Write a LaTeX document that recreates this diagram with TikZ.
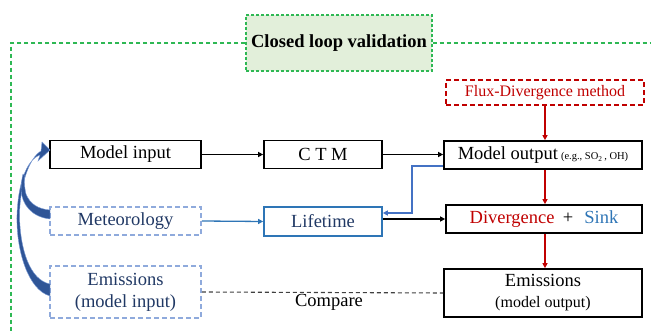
\documentclass[tikz,border=0pt]{standalone}
\usepackage{fontspec}
\setmainfont{Liberation Serif}
\newfontfamily\tnr{Liberation Serif}
\usetikzlibrary{arrows.meta,calc}
\definecolor{gframe}{RGB}{46,184,84}
\definecolor{gfill}{RGB}{226,239,218}
\definecolor{fred}{RGB}{192,0,0}
\definecolor{lblue}{RGB}{143,170,220}
\definecolor{navy}{RGB}{32,56,100}
\definecolor{mblue}{RGB}{46,117,182}
\definecolor{ablue}{RGB}{68,114,196}
\definecolor{dblue}{RGB}{47,85,151}
\newcommand\bigtxt{\tnr\fontsize{18.5}{22}\selectfont}
\newcommand\midtxt{\tnr\fontsize{16}{18}\selectfont}
\newcommand\smtxt{\tnr\fontsize{10.5}{12}\selectfont}
\begin{document}
\begin{tikzpicture}[x=1pt,y=-1pt,
  blackbox/.style={draw=black,line width=1.7pt,inner sep=0pt,align=center,font=\bigtxt},
  lightbox/.style={draw=lblue,line width=1.8pt,dash pattern=on 5pt off 3pt,inner sep=0pt,align=center,font=\bigtxt,text=navy},
  arr/.style={line width=1.3pt,-{Triangle[length=5pt,width=5pt]}},
  redarr/.style={arr,draw=fred,line width=1.6pt},
  bluearr/.style={arr,draw=mblue},
]
\useasboundingbox (0,0) rectangle (651,334);

% title and frame
\node[draw=gframe,fill=gfill,line width=1.2pt,dash pattern=on 3pt off 2pt,
      minimum width=186pt,minimum height=56pt,inner sep=0pt,
      font=\bigtxt\bfseries] (title) at (339,43) {Closed loop validation};
\draw[gframe,line width=1.1pt,dash pattern=on 4pt off 3pt] (title.west) -| (11,334);
\draw[gframe,line width=1.1pt,dash pattern=on 4pt off 3pt] (title.east) -- (651,43);

% top row
\node[draw=fred,line width=2pt,dash pattern=on 5pt off 3pt,minimum width=198pt,minimum height=25pt,
      inner sep=0pt,text=fred,font=\midtxt] (flux) at (545,92.5) {Flux-Divergence method};
\node[blackbox,minimum width=151pt,minimum height=28pt] (modelin) at (125.5,154.5) {Model input};
\node[blackbox,minimum width=118pt,minimum height=28pt] (ctm) at (323,154.5) {C T M};
\node[blackbox,minimum width=198pt,minimum height=28pt] (modelout) at (543,155)
  {Model output\,{\smtxt (e.g., SO\textsubscript{2}\,, OH)}};

% middle row
\node[lightbox,minimum width=151pt,minimum height=28pt] (meteo) at (125.5,221) {Meteorology};
\node[draw=mblue,line width=1.7pt,inner sep=0pt,font=\bigtxt,text=navy,
      minimum width=118pt,minimum height=29pt] (life) at (323,221.5) {Lifetime};
\node[blackbox,minimum width=196pt,minimum height=28pt] (div) at (544,219)
  {{\color{fred}Divergence}\hspace{0.45em}+\hspace{0.6em}{\color{mblue}Sink}};

% bottom row
\node[lightbox,minimum width=151pt,minimum height=52pt] (emin) at (125.5,292)
  {Emissions\\(model input)};
\node[blackbox,minimum width=198pt,minimum height=48pt] (emout) at (543,293)
  {Emissions\\[-1pt]{\midtxt (model output)}};
\node[font=\bigtxt,inner sep=0pt] (cmp) at (329,302) {Compare};

% connectors
\draw[arr] (modelin.east) -- (ctm.west);
\draw[arr] (ctm.east) -- (ctm.east -| modelout.west);
\draw[bluearr] (meteo.east) -- (life.west);
\draw[arr] (life.east |- div.west) -- (div.west);
\draw[arr,draw=ablue] ($(modelout.west)+(0,11)$) -- (412,166) -- (412,213) -- ($(life.east)+(0,-8.5)$);
\draw[redarr] (flux.south) -- (flux.south |- modelout.north);
\draw[redarr] (modelout.south -| flux.south) -- (div.north -| flux.south);
\draw[redarr] (div.south -| flux.south) -- (emout.north -| flux.south);
\draw[black!75,line width=1.1pt,dash pattern=on 4pt off 3pt] (emin.east) -- (emout.west);

% curved block arrows
\fill[dblue,draw=ablue!70,line width=0.4pt]
  (50,296) .. controls (28,290) and (16,250) .. (17,215)
           .. controls (18,185) and (26,160) .. (40,155)
  -- (38,161) -- (50,150) -- (42,142) -- (41,151)
  .. controls (29,158) and (20,185) .. (19.5,215)
  .. controls (20,250) and (30,280) .. (50,284) -- cycle;
\fill[dblue,draw=ablue!70,line width=0.4pt]
  (50,219) .. controls (32,217) and (22,205) .. (21,190)
  .. controls (21,184) and (22,178) .. (23,174)
  -- (24.5,176) .. controls (24,184) and (25,190) .. (26,194)
  .. controls (30,204) and (38,209) .. (50,210) -- cycle;
\end{tikzpicture}
\end{document}
